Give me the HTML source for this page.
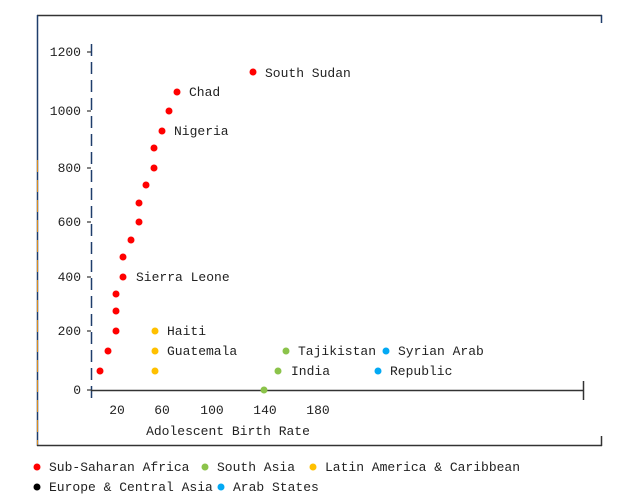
<!DOCTYPE html>
<html><head><meta charset="utf-8"><style>
body{margin:0;background:#fff;}
svg text{font-family:"Liberation Mono","Noto Serif CJK SC",monospace;font-size:13px;fill:#222;}
</style></head><body>
<svg width="627" height="499" xmlns="http://www.w3.org/2000/svg">
<rect width="627" height="499" fill="#fff"/>
<line x1="37" y1="15.5" x2="602" y2="15.5" stroke="#333" stroke-width="1.5"/>
<line x1="601.5" y1="15" x2="601.5" y2="23" stroke="#1f3d6b" stroke-width="1.5"/>
<line x1="37.5" y1="15" x2="37.5" y2="446" stroke="#1f3d6b" stroke-width="1.5"/>
<line x1="37.5" y1="160" x2="37.5" y2="446" stroke="#d98b1c" stroke-width="1" stroke-dasharray="12,8"/>
<line x1="37" y1="445.5" x2="602" y2="445.5" stroke="#333" stroke-width="1.5"/>
<line x1="601.5" y1="436" x2="601.5" y2="446" stroke="#333" stroke-width="1.5"/>
<!-- y axis -->
<line x1="91.5" y1="44" x2="91.5" y2="398" stroke="#1f3d6b" stroke-width="1.5" stroke-dasharray="12,6"/>
<g stroke="#333" stroke-width="1.2">
<line x1="87" y1="52" x2="91" y2="52"/><line x1="87" y1="111" x2="91" y2="111"/>
<line x1="87" y1="168" x2="91" y2="168"/><line x1="87" y1="222" x2="91" y2="222"/>
<line x1="87" y1="277" x2="91" y2="277"/><line x1="87" y1="331" x2="91" y2="331"/>
<line x1="87" y1="390" x2="91" y2="390"/>
</g>
<g text-anchor="end">
<text x="81" y="56">1200</text><text x="81" y="115">1000</text><text x="81" y="172">800</text>
<text x="81" y="226">600</text><text x="81" y="281">400</text><text x="81" y="335">200</text>
<text x="81" y="394">0</text>
</g>
<!-- x axis -->
<line x1="91" y1="390.5" x2="583" y2="390.5" stroke="#333" stroke-width="1.5"/>
<line x1="583.5" y1="381" x2="583.5" y2="400" stroke="#333" stroke-width="1.5"/>
<g text-anchor="middle">
<text x="117" y="414">20</text><text x="162" y="414">60</text><text x="212" y="414">100</text>
<text x="265" y="414">140</text><text x="318" y="414">180</text>
<text x="228" y="435">Adolescent Birth Rate</text>
</g>
<!-- points -->
<g fill="#ff0000">
<circle cx="100" cy="371" r="3.5"/><circle cx="108" cy="351" r="3.5"/><circle cx="116" cy="331" r="3.5"/>
<circle cx="116" cy="311" r="3.5"/><circle cx="116" cy="294" r="3.5"/><circle cx="123" cy="277" r="3.5"/>
<circle cx="123" cy="257" r="3.5"/><circle cx="131" cy="240" r="3.5"/><circle cx="139" cy="222" r="3.5"/>
<circle cx="139" cy="203" r="3.5"/><circle cx="146" cy="185" r="3.5"/><circle cx="154" cy="168" r="3.5"/>
<circle cx="154" cy="148" r="3.5"/><circle cx="162" cy="131" r="3.5"/><circle cx="169" cy="111" r="3.5"/>
<circle cx="177" cy="92" r="3.5"/><circle cx="253" cy="72" r="3.5"/>
</g>
<g fill="#ffc000"><circle cx="155" cy="331" r="3.5"/><circle cx="155" cy="351" r="3.5"/><circle cx="155" cy="371" r="3.5"/></g>
<g fill="#8bc34a"><circle cx="264" cy="390" r="3.5"/><circle cx="278" cy="371" r="3.5"/><circle cx="286" cy="351" r="3.5"/></g>
<g fill="#03a9f4"><circle cx="386" cy="351" r="3.5"/><circle cx="378" cy="371" r="3.5"/></g>
<text x="265" y="77">South Sudan</text><text x="189" y="96">Chad</text><text x="174" y="135">Nigeria</text>
<text x="136" y="281">Sierra Leone</text><text x="167" y="335">Haiti</text><text x="167" y="355">Guatemala</text>
<text x="298" y="355">Tajikistan</text><text x="291" y="375">India</text>
<text x="398" y="355">Syrian Arab</text><text x="390" y="375">Republic</text>
<!-- legend -->
<circle cx="37" cy="467" r="3.5" fill="#ff0000"/><text x="49" y="471">Sub-Saharan Africa</text>
<circle cx="205" cy="467" r="3.5" fill="#8bc34a"/><text x="217" y="471">South Asia</text>
<circle cx="313" cy="467" r="3.5" fill="#ffc000"/><text x="325" y="471">Latin America &amp; Caribbean</text>
<circle cx="37" cy="487" r="3.5" fill="#000"/><text x="49" y="491">Europe &amp; Central Asia</text>
<circle cx="221" cy="487" r="3.5" fill="#03a9f4"/><text x="233" y="491">Arab States</text>
</svg>
</body></html>
